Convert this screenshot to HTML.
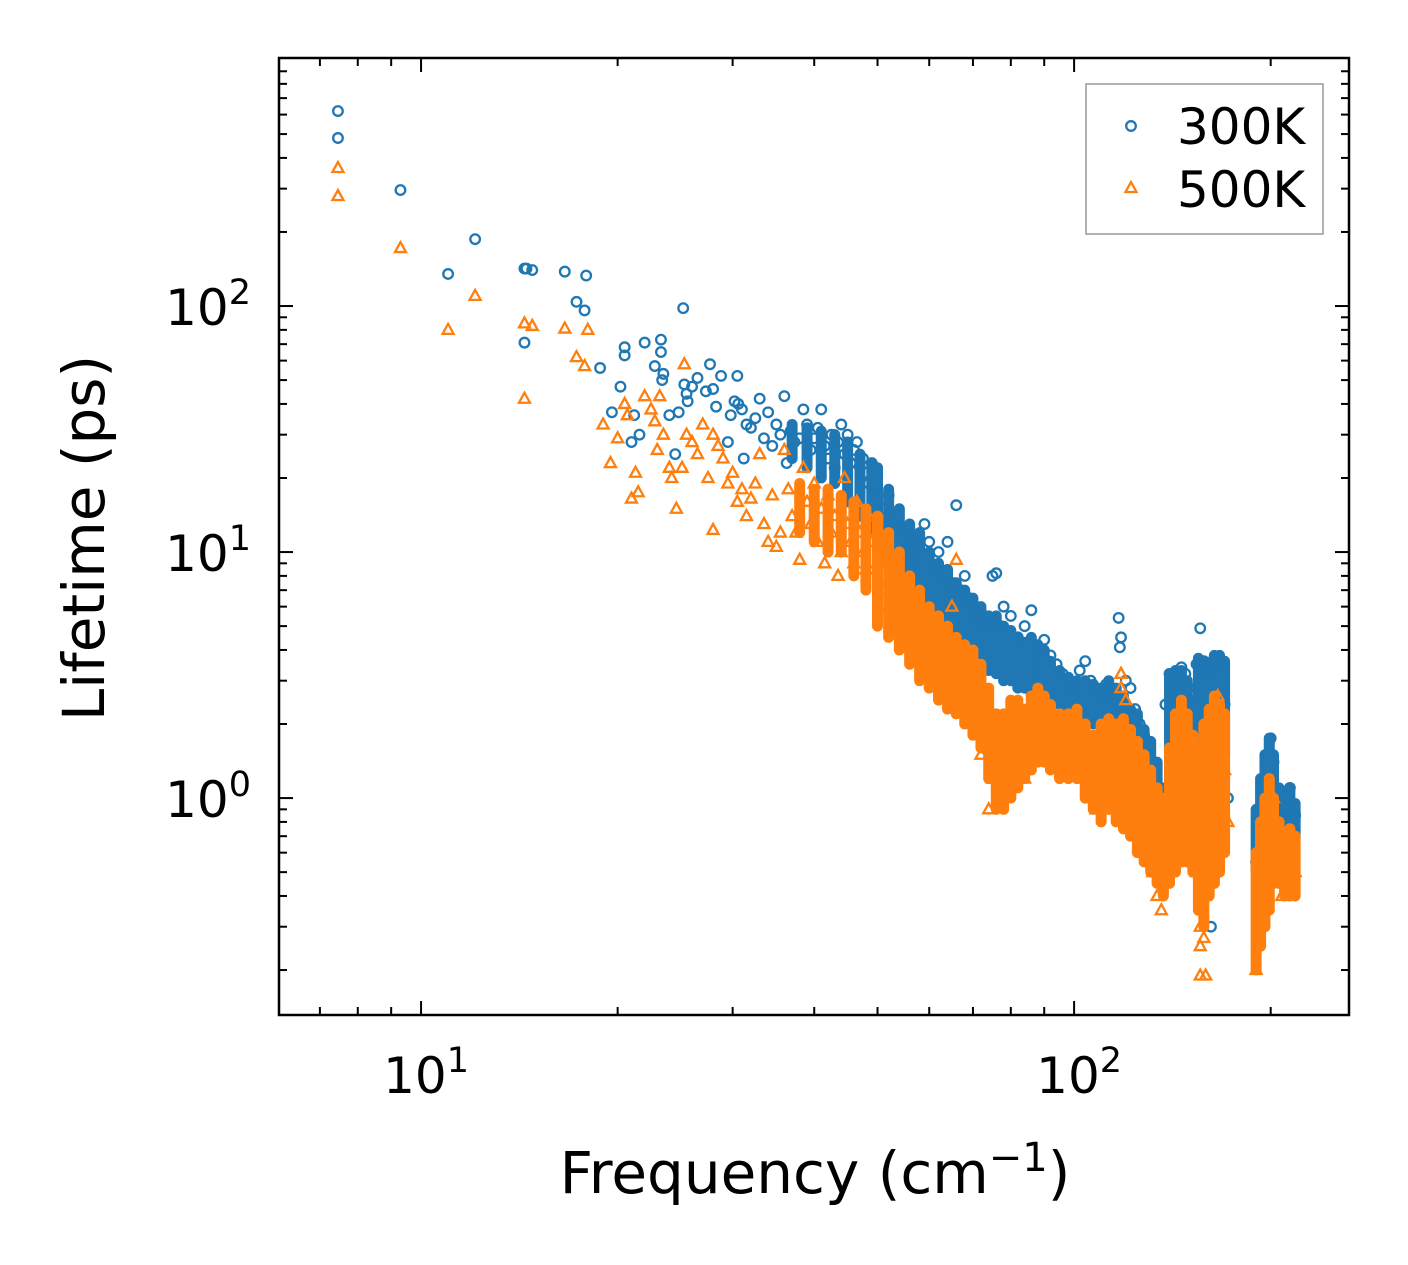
<!DOCTYPE html>
<html><head><meta charset="utf-8"><style>
html,body{margin:0;padding:0;background:#fff;}
svg{display:block;font-family:"DejaVu Sans","Liberation Sans",sans-serif;}
</style></head><body>
<svg id="chart" width="1408" height="1265" viewBox="0 0 1408 1265" xmlns="http://www.w3.org/2000/svg">
<g id="dense"></g>
<g id="marks"></g>
<g id="axes"></g>
</svg>
<script>
const blue300 = [[7.46,620],[7.46,482],[9.3,296],[11,135],[12.1,187],[14.4,142],[14.5,142],[14.8,140],[14.4,71],[16.6,138],[17.3,104],[17.8,96],[17.9,133],[18.8,56],[19.6,37],[20.2,47],[20.5,68],[20.5,63],[21,28],[21.2,36],[21.6,30],[22,71],[22.8,57],[23.3,73],[23.3,65],[23.5,53],[23.4,50],[24,36],[24.5,25],[24.8,37],[25.2,98],[25.3,48],[25.5,44],[25.6,41],[26,47],[26.5,51],[27.3,45],[27.7,58],[28,46],[28.3,39],[28.8,52],[29.5,28],[29.8,36],[30.2,41],[30.5,52],[30.6,40],[31,38],[31.2,24],[31.5,33],[32,32],[32.5,35],[33,42],[33.5,29],[34,37],[34.5,27],[35,33],[35.5,30],[36,43],[36.3,23],[36.8,31],[37.3,28],[38,29],[38.5,38],[39,33],[39.5,26],[40,29],[40.5,32],[41,38],[41.5,27],[42,24],[42.5,30],[43,22],[43.5,28],[44,33],[44.5,25],[45,30],[45.5,23],[46,26],[46.5,28],[47,22],[47.5,24],[48,21],[48.5,19],[49,23],[50,17],[51,15],[52,17],[53,14],[54,12],[55,12.5],[56,10],[57,11],[58,9.5],[59,13],[60,11],[61,8.5],[62,10],[63,8],[64,11],[65,7.5],[66,15.5],[67,7],[68,8],[69,6.5],[70,6],[71,5.5],[72,5],[74,5.2],[75,8],[76,8.2],[77,5],[78,6],[80,5.5],[82,4.5],[84,5],[86,5.8],[88,4],[90,4.4],[92,3.8],[94,3.5],[96,3.2],[98,3],[100,2.8],[102,3.3],[104,3.6],[106,3],[108,2.8],[110,2.6],[112,2.9],[114,2.5],[116,2.3],[117,5.4],[118,4.5],[117.5,4.1],[120,3],[122,2.8],[124,2.3],[126,2],[128,1.8],[130,1.5],[132,1.2],[134,1.0],[136,0.8],[138,2.4],[140,3.2],[142,3],[144,2.5],[146,3.4],[148,3.2],[150,2.8],[152,2],[154,3.5],[156,4.9],[158,3.6],[160,3.2],[162,1.0],[162,0.3],[164,3.7],[166,3.5],[168,3.6],[170,2.4],[172,1.0],[190,0.55],[192,0.6],[195,0.8],[198,1.0],[200,1.75],[202,1.4],[205,0.9],[208,0.7],[210,0.8],[212,0.9],[214,1.1],[216,0.95],[218,0.85]];
const orange500 = [[7.46,364],[7.46,280],[9.3,172],[11,80],[12.1,110],[14.4,85],[14.4,42],[14.8,83],[16.6,81],[17.3,62],[17.8,57],[18,80],[19,33],[19.5,23],[20,29],[20.5,40],[20.7,36],[21,16.5],[21.3,21],[21.5,17.5],[22,43],[22.5,38],[22.8,34],[23,26],[23.2,43],[23.5,30],[24,22],[24.2,20],[24.6,15],[25.1,22],[25.3,58],[25.5,30],[26,28],[26.5,25],[27,33],[27.5,20],[28,12.3],[28,30],[28.5,27],[29,24],[29.5,19],[30,21],[30.5,16],[31,18],[31.5,14],[32,16.5],[32.5,19],[33,25],[33.5,13],[34,11],[34.5,17],[35,10.5],[35.5,12],[36,26],[36.5,18],[37,14],[37.5,12],[38,9.3],[38.5,22],[39,16],[39.5,13],[40,19],[40.5,11],[41,15],[41.5,9],[42,17],[42.5,12],[43,14],[43.5,8],[44,10],[44.5,20],[45,13],[45.5,11],[46,9],[46.5,16],[47,12],[47.5,10],[48,8.5],[48.5,14],[49,11],[50,9],[51,7],[52,6],[53,8],[54,6.5],[55,5],[56,4.5],[57,4],[58,5.5],[59,4],[60,4.3],[61,3.5],[62,4],[63,3.7],[64,3],[65,6],[66,9.3],[67,2.6],[68,3],[69,2.4],[70,2.2],[71,1.9],[72,1.5],[74,0.9],[75,1.2],[76,1.4],[78,1.6],[80,1.9],[82,1.4],[84,1.2],[86,1.8],[88,2.5],[90,2.2],[92,1.9],[94,1.6],[96,1.4],[98,1.7],[100,2],[102,1.5],[104,1.2],[106,1.0],[108,0.9],[110,1.3],[112,1.6],[114,1.4],[116,1.2],[118,3.2],[118,2.8],[120,2.5],[122,1.2],[124,0.9],[126,0.8],[128,0.7],[130,0.6],[132,0.5],[134,0.4],[136,0.35],[138,0.6],[140,0.8],[142,1.1],[144,1.6],[146,2.3],[148,2.0],[150,1.2],[152,0.8],[154,0.5],[156,0.3],[156,0.25],[158,0.27],[156,0.19],[159,0.19],[164,1.5],[166,2.6],[168,2.2],[170,1.3],[172,0.8],[190,0.2],[192,0.35],[195,0.5],[198,0.6],[200,0.9],[202,1.0],[205,0.6],[208,0.4],[210,0.45],[212,0.55],[214,0.7],[216,0.6],[218,0.5]];
// dense ranges: [frequency, lowest lifetime, highest lifetime]
const blueDense = [[37,24,33],[39,22,32],[41,20,31],[43,19,30],[45,16,28],[47,14,25],[49,12,23],[50,10,22],[52,9,18],[54,8,15],[56,7,13],[58,6,12],[60,5.5,10],[62,5,9],[64,4.5,8.5],[66,4,7.5],[68,4,7],[70,3.8,6.5],[72,3.5,6],[74,3.3,5.5],[76,3.2,5.5],[78,3,5],[80,3,4.8],[82,2.8,4.5],[84,2.8,4.3],[86,2.6,4.5],[88,2.5,4.2],[90,2.5,4],[92,2.4,3.6],[95,2.4,3.3],[98,2.3,3.1],[101,2.2,3.0],[104,2,3],[107,2,2.9],[110,1.9,2.8],[113,1.8,3],[116,1.7,2.8],[119,1.5,2.6],[122,1.3,2.3],[125,1.2,2.2],[128,1.0,1.9],[131,0.9,1.7],[134,0.8,1.4],[137,0.7,1.1],[140,0.7,3.2],[143,0.8,3.3],[146,0.8,3.3],[149,0.8,3.0],[152,0.9,2.5],[155,0.9,3.7],[158,1.0,3.6],[161,1.0,3.4],[164,1.5,3.8],[167,1.5,3.8],[170,1.5,3.6],[190,0.5,0.9],[193,0.55,1.2],[196,0.6,1.5],[199,0.7,1.75],[202,0.8,1.5],[206,0.7,1.1],[210,0.7,1.05],[214,0.75,1.1],[218,0.7,0.95]];
const orangeDense = [[38,12,19],[40,11,18],[42,10,18],[44,10,17],[46,8,16],[48,7,15],[50,5,14],[52,4.5,12],[54,4,10],[56,3.5,8],[58,3,7],[60,2.8,6],[62,2.5,5.5],[64,2.3,5],[66,2.2,4.5],[68,2,4.2],[70,1.8,4],[72,1.6,3.5],[74,1.2,2.8],[76,0.9,2.2],[78,0.9,2.2],[80,1.0,2.5],[82,1.1,2.5],[84,1.2,2.3],[86,1.3,2.6],[88,1.4,2.8],[90,1.4,2.6],[92,1.3,2.4],[95,1.2,2.2],[98,1.2,2.2],[101,1.2,2.3],[104,1.0,2.0],[107,0.9,1.8],[110,0.8,2.0],[113,0.9,2.1],[116,0.8,2.0],[119,0.75,2.1],[122,0.7,1.9],[125,0.6,1.7],[128,0.55,1.5],[131,0.5,1.3],[134,0.45,1.1],[137,0.4,1.0],[140,0.45,1.6],[143,0.5,2.2],[146,0.55,2.5],[149,0.55,2.2],[152,0.5,1.8],[155,0.35,1.6],[158,0.3,2.0],[161,0.4,2.3],[164,0.45,2.6],[167,0.5,2.4],[170,0.6,2.2],[190,0.2,0.6],[193,0.25,0.8],[196,0.3,1.0],[199,0.35,1.2],[202,0.45,1.0],[206,0.45,0.8],[210,0.4,0.7],[214,0.4,0.75],[218,0.4,0.7]];
const xMajorTicks = [10, 100];
const xMinorTicks = [7,8,9,20,30,40,50,60,70,80,90,200];
const yMajorTicks = [1, 10, 100];
const yMinorTicks = [0.2,0.3,0.4,0.5,0.6,0.7,0.8,0.9,2,3,4,5,6,7,8,9,20,30,40,50,60,70,80,90,200,300,400,500,600,700,800,900];

const L=279,R=1349,T=58,B=1015;
const xMin=Math.log10(6.06), xMax=Math.log10(263.6);
const yMin=Math.log10(0.1313), yMax=Math.log10(1019);
function xs(v){return L+(Math.log10(v)-xMin)/(xMax-xMin)*(R-L);}
function ys(v){return B-(Math.log10(v)-yMin)/(yMax-yMin)*(B-T);}
const NS="http://www.w3.org/2000/svg";
const BLUE="#1f77b4", ORANGE="#ff7f0e";
function mk(tag,attrs,parent){const e=document.createElementNS(NS,tag);for(const k in attrs)e.setAttribute(k,attrs[k]);parent.appendChild(e);return e;}
const dense=document.getElementById('dense'), marks=document.getElementById('marks'), axes=document.getElementById('axes');

function circle(x,y,parent){
  const c=mk('circle',{cx:x,cy:y,r:4.8,fill:'none',stroke:BLUE,'stroke-width':2.3},parent);
  
  
}
function tri(x,y,parent){
  const p=mk('polygon',{points:`${x},${y-6} ${x-5.5},${y+4} ${x+5.5},${y+4}`,fill:'none',stroke:ORANGE,'stroke-width':2.3,'stroke-linejoin':'miter'},parent);
  
  
}
function band(arr,color,name,g){
  arr.forEach(d=>{
    const l=mk('line',{x1:xs(d[0]),x2:xs(d[0]),y1:ys(d[1]),y2:ys(d[2]),stroke:color,'stroke-width':11,'stroke-linecap':'round'},g);
    
    
  });
}
const gb=mk('g',{},dense);


band(blueDense,BLUE,'band-300k',gb);
const gbp=mk('g',{},marks);


blue300.forEach(d=>circle(xs(d[0]),ys(d[1]),gbp));
const go=mk('g',{},marks);


band(orangeDense,ORANGE,'band-500k',go);
const gop=mk('g',{},marks);


orange500.forEach(d=>tri(xs(d[0]),ys(d[1]),gop));

// frame
const fr=mk('rect',{x:L,y:T,width:R-L,height:B-T,fill:'none',stroke:'#000','stroke-width':2.5},axes);


function tickLine(x1,y1,x2,y2){mk('line',{x1,y1,x2,y2,stroke:'#000','stroke-width':2},axes);}
xMajorTicks.forEach(v=>{const x=xs(v);tickLine(x,B,x,B-14);tickLine(x,T,x,T+14);
  const t=mk('text',{x:x+5,y:1093,'font-size':50,'text-anchor':'middle',fill:'#000'},axes);
  
  
  t.innerHTML='10<tspan dy="-21" font-size="35">'+Math.round(Math.log10(v))+'</tspan>';});
xMinorTicks.forEach(v=>{const x=xs(v);tickLine(x,B,x,B-8);tickLine(x,T,x,T+8);});
yMajorTicks.forEach(v=>{const y=ys(v);tickLine(L,y,L+14,y);tickLine(R,y,R-14,y);
  const t=mk('text',{x:251,y:y+19,'font-size':50,'text-anchor':'end',fill:'#000'},axes);
  
  
  t.innerHTML='10<tspan dy="-21" font-size="35">'+Math.round(Math.log10(v))+'</tspan>';});
yMinorTicks.forEach(v=>{const y=ys(v);tickLine(L,y,L+8,y);tickLine(R,y,R-8,y);});

const xt=mk('text',{x:815,y:1193,'font-size':58,'text-anchor':'middle',fill:'#000'},axes);


xt.innerHTML='Frequency (cm<tspan dy="-22" font-size="40">−1</tspan><tspan dy="22">)</tspan>';
const yt=mk('text',{x:0,y:0,'font-size':58,'text-anchor':'middle',fill:'#000',transform:'translate(104,538) rotate(-90)'},axes);


yt.textContent='Lifetime (ps)';

// legend
const lg=mk('g',{},axes);


mk('rect',{x:1086,y:84,width:237,height:150,fill:'#fff',stroke:'#999','stroke-width':1.5},lg);
circle(1131,126,lg);
tri(1131,188,lg);
const l1=mk('text',{x:1177,y:144,'font-size':50,fill:'#000'},lg);


l1.textContent='300K';
const l2=mk('text',{x:1177,y:207,'font-size':50,fill:'#000'},lg);


l2.textContent='500K';
</script>
</body></html>
